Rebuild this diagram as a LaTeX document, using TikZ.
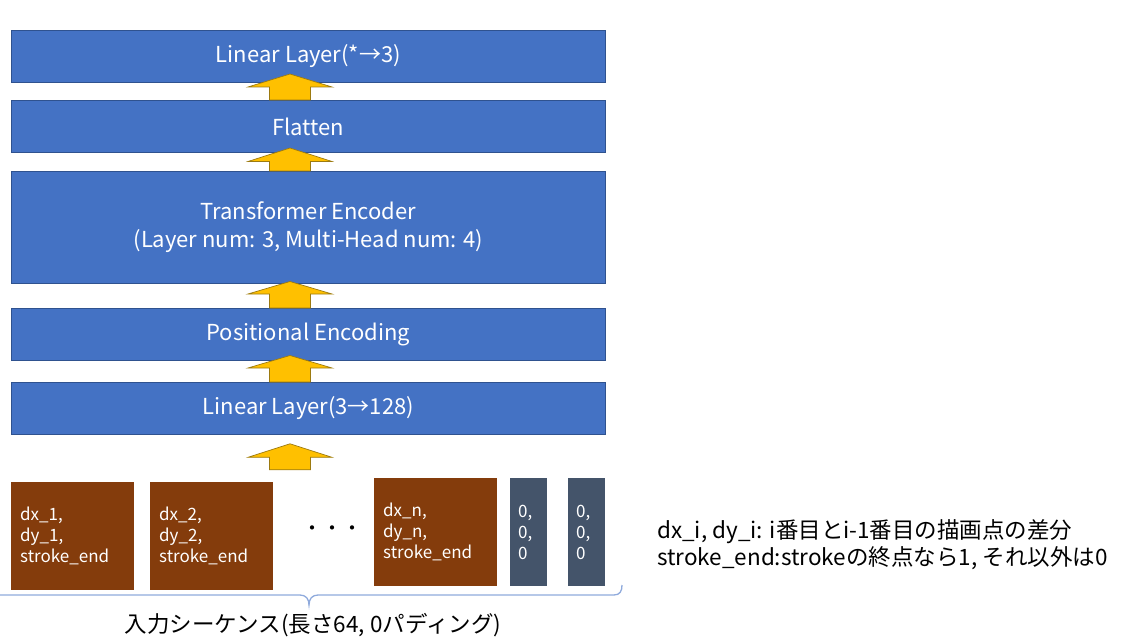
\documentclass[tikz,border=0pt]{standalone}
\usepackage{fontspec}
\setmainfont{Noto Sans CJK JP}
\usetikzlibrary{calc}
\definecolor{boxblue}{HTML}{4472C4}
\definecolor{boxedge}{HTML}{2F528F}
\definecolor{arrfill}{HTML}{FFC000}
\definecolor{arredge}{HTML}{9C7A10}
\definecolor{seqbrown}{HTML}{843C0C}
\definecolor{padgray}{HTML}{44546A}
\definecolor{bracecol}{HTML}{8FAADC}
\newcommand\blockarr[3]{%
  \filldraw[uparrow] ($(#1)+(-20.5,0)$) -- ++(0,-#2) -- ++(-21.5,0) -- ++(42,-#3)
    -- ++(42,#3) -- ++(-21.5,0) -- ++(0,#2) -- cycle;}
\begin{document}
\begin{tikzpicture}[x=1pt,y=-1pt,
  layerbox/.style={draw=boxedge, line width=0.8pt, fill=boxblue, text=white,
    minimum width=594pt, anchor=north west, inner sep=0pt,
    font=\fontsize{22}{28}\selectfont, align=center},
  seqbox/.style={fill=seqbrown, text=white, anchor=north west, minimum height=108pt,
    inner xsep=9pt, inner ysep=0pt, text width=105pt, align=left,
    font=\fontsize{17}{21}\selectfont},
  padbox/.style={fill=padgray, text=white, anchor=north west, minimum height=108pt,
    inner xsep=8pt, inner ysep=0pt, text width=21pt, align=left,
    font=\fontsize{17}{21}\selectfont},
  uparrow/.style={fill=arrfill, draw=arredge, line width=0.7pt, line join=miter},
  bracestyle/.style={draw=bracecol, line width=1.3pt},
  plaintext/.style={text=black, inner sep=0pt, font=\fontsize{22.5}{27}\selectfont, align=left}]
\useasboundingbox (0,0) rectangle (1124,639);
% layer boxes
\node[layerbox, minimum height=52pt] (lin2) at (11,30) {Linear Layer(*→3)};
\node[layerbox, minimum height=52pt] (flat) at (11,100) {Flatten};
\node[layerbox, minimum height=112pt] (trans) at (11,171) {Transformer Encoder\\(Layer num: 3, Multi-Head num: 4)};
\node[layerbox, minimum height=52pt] (pos) at (11,308) {Positional Encoding};
\node[layerbox, minimum height=52pt] (lin1) at (11,382) {Linear Layer(3→128)};
% arrows
\coordinate (a1) at ($(flat.north west)+(279,0)$);
\coordinate (a2) at ($(trans.north west)+(279,0)$);
\coordinate (a3) at ($(pos.north west)+(279,0)$);
\coordinate (a4) at ($(lin1.north west)+(279,0)$);
\coordinate (a5) at ($(lin1.south west)+(279,35)$);
\blockarr{a1}{13}{13}
\blockarr{a2}{9.5}{13.5}
\blockarr{a3}{14}{12.5}
\blockarr{a4}{14}{12.5}
\blockarr{a5}{12.5}{13.5}
% sequence boxes
\node[seqbox] (s1) at (11,482) {dx\_1,\\dy\_1,\\stroke\_end};
\node[seqbox] (s2) at (150,482) {dx\_2,\\dy\_2,\\stroke\_end};
\node[text=black, inner sep=0pt, font=\fontsize{20}{24}\selectfont] (dots) at (332,531) {・・・};
\node[seqbox] (sn) at (374,478) {dx\_n,\\dy\_n,\\stroke\_end};
\node[padbox] (p1) at (510,478) {0,\\0,\\0};
\node[padbox] (p2) at (568,478) {0,\\0,\\0};
% brace
\draw[bracestyle] (0,595) -- (300,595) .. controls (306,595) and (309,599) .. (309,605)
  .. controls (309,599) and (312,595) .. (318,595) -- (614,595)
  .. controls (620,595) and (622,591) .. (622,585);
\node[plaintext] (seqlabel) at (313,625) {入力シーケンス(長さ64, 0パディング)};
% annotation
\node[plaintext, anchor=west] (note) at (657,545) {dx\_i, dy\_i: i番目とi-1番目の描画点の差分\\stroke\_end:strokeの終点なら1, それ以外は0};
\end{tikzpicture}
\end{document}
